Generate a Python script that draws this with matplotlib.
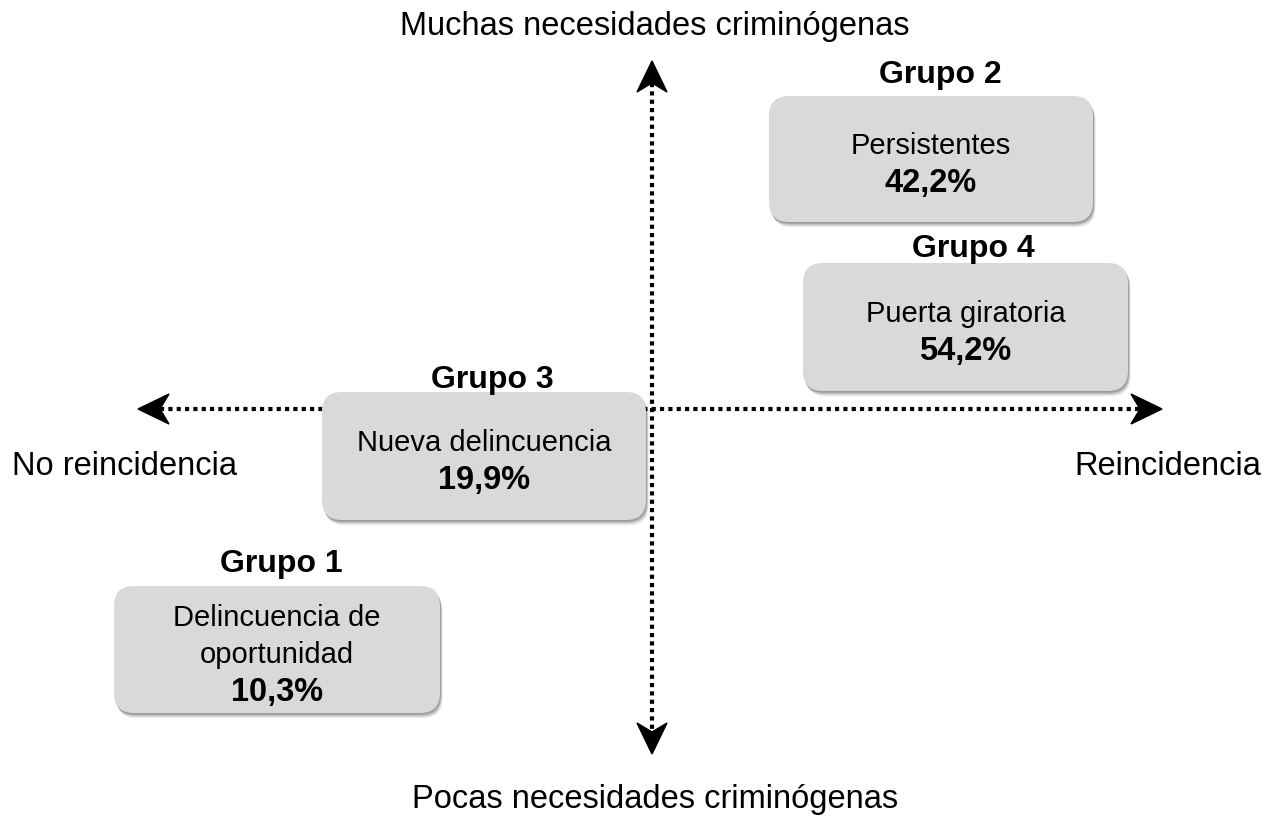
import matplotlib
matplotlib.use("Agg")
import matplotlib.pyplot as plt
from matplotlib.patches import FancyBboxPatch, Polygon

plt.rcParams['font.family'] = ['Liberation Sans', 'DejaVu Sans']

# data
groups = ["Grupo 1", "Grupo 2", "Grupo 3", "Grupo 4"]
names = ["Delincuencia de\noportunidad", "Persistentes", "Nueva delincuencia", "Puerta giratoria"]
values = ["10,3%", "42,2%", "19,9%", "54,2%"]
axis_labels = {"top": "Muchas necesidades criminógenas",
               "bottom": "Pocas necesidades criminógenas",
               "left": "No reincidencia",
               "right": "Reincidencia"}

# layout (pixel coords): box x0, y0, x1, y1
boxes = [(114, 587, 440, 714), (769, 97, 1093, 223), (322, 393, 646, 521), (803, 264, 1128, 392)]
title_xy = [(281, 564), (940, 75), (492, 380), (973, 249)]

W, H = 1285, 820
fig = plt.figure(figsize=(W / 100, H / 100), dpi=100)
ax = fig.add_axes([0, 0, 1, 1])
ax.set_xlim(0, W)
ax.set_ylim(H, 0)
ax.axis('off')

cx, cy = 652, 410
top, bottom, left, right = 62, 755, 138, 1162
lw = 3.0
ax.plot([cx, cx], [top + 22, bottom - 22], color='black', lw=lw, ls=(0, (1, 1)), zorder=1)
ax.plot([left + 22, right - 22], [cy, cy], color='black', lw=lw, ls=(0, (1, 1)), zorder=1)

def head(tip, direction):
    L, Wd, notch = 31, 15, 22
    dx, dy = direction
    px, py = -dy, dx
    tx, ty = tip
    pts = [(tx, ty),
           (tx - dx * L + px * Wd, ty - dy * L + py * Wd),
           (tx - dx * notch, ty - dy * notch),
           (tx - dx * L - px * Wd, ty - dy * L - py * Wd)]
    ax.add_patch(Polygon(pts, closed=True, color='black', zorder=2))

head((cx, top), (0, -1))
head((cx, bottom), (0, 1))
head((left, cy), (-1, 0))
head((right, cy), (1, 0))

r = 20
for (x0, y0, x1, y1), g, n, v, (tx, ty) in zip(boxes, groups, names, values, title_xy):
    for k, a in enumerate([0.04, 0.05, 0.06, 0.08, 0.10, 0.12]):
        off = 7 - k
        ax.add_patch(FancyBboxPatch((x0 + r + off * 0.4, y0 + r + off * 0.8),
                                    x1 - x0 - 2 * r, y1 - y0 - 2 * r,
                                    boxstyle=f"round,pad={r},rounding_size={r}",
                                    fc='black', ec='none', alpha=a, zorder=3))
    ax.add_patch(FancyBboxPatch((x0 + r, y0 + r), x1 - x0 - 2 * r, y1 - y0 - 2 * r,
                                boxstyle=f"round,pad={r},rounding_size={r}",
                                fc='#d9d9d9', ec='none', zorder=4))
    mx = (x0 + x1) / 2
    ax.text(tx, ty, g, ha='center', va='center', fontsize=23, fontweight='bold', zorder=5)
    lines = n.split("\n")
    nl = len(lines) + 1
    gap = 37
    ymid = (y0 + y1) / 2 + 5
    ys = [ymid - gap * (nl - 1) / 2 + i * gap for i in range(nl)]
    for line, yy in zip(lines, ys[:-1]):
        ax.text(mx, yy, line, ha='center', va='center', fontsize=21, zorder=5)
    ax.text(mx, ys[-1], v, ha='center', va='center', fontsize=23.5, fontweight='bold', zorder=5)

ax.text(655, 26, axis_labels["top"], ha='center', va='center', fontsize=23.5)
ax.text(655, 800, axis_labels["bottom"], ha='center', va='center', fontsize=23.5)
ax.text(124, 467, axis_labels["left"], ha='center', va='center', fontsize=23.5)
ax.text(1168, 467, axis_labels["right"], ha='center', va='center', fontsize=23.5)

fig.savefig("out.png", dpi=100)
